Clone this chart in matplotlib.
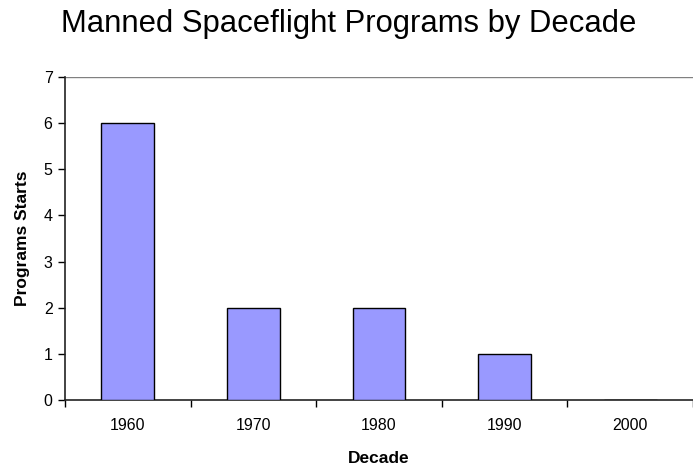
import matplotlib
matplotlib.use("Agg")
import matplotlib.pyplot as plt
import numpy as np

plt.rcParams["font.family"] = ["Liberation Sans", "DejaVu Sans"]

decades = ["1960", "1970", "1980", "1990", "2000"]
program_starts = [6, 2, 2, 1, 0]

fig = plt.figure(figsize=(6.93, 4.68), dpi=100)
ax = fig.add_axes([0.0938, 0.1453, 0.9062, 0.6902])

x = np.arange(len(decades))
ax.bar(x, program_starts, width=0.42, color="#9999FF",
       edgecolor="black", linewidth=1.0, zorder=3)

ax.set_xlim(-0.5, len(decades) - 0.5)
ax.set_ylim(0, 7)
ax.set_yticks(range(0, 8))
ax.tick_params(axis="y", direction="out", length=5, width=1, labelsize=11.5, pad=4)

# category labels centered, tick marks on category boundaries
ax.set_xticks(x)
ax.set_xticklabels(decades, fontsize=11.5)
ax.tick_params(axis="x", which="major", length=0, pad=13)
ax.set_xticks(np.arange(-0.5, len(decades)), minor=True)
ax.tick_params(axis="x", which="minor", direction="out", length=5, width=1)

ax.axhline(7, color="#808080", linewidth=1.0, zorder=2)
for side in ("top", "right"):
    ax.spines[side].set_visible(False)
for side in ("left", "bottom"):
    ax.spines[side].set_color("#222222")
    ax.spines[side].set_linewidth(1.2)

ax.set_xlabel("Decade", fontsize=12.5, fontweight="bold", labelpad=13)
ax.set_ylabel("Programs Starts", fontsize=12.5, fontweight="bold", labelpad=10)
fig.suptitle("Manned Spaceflight Programs by Decade", fontsize=22.3, x=0.503, y=0.98)

fig.savefig("out.png", dpi=100)
